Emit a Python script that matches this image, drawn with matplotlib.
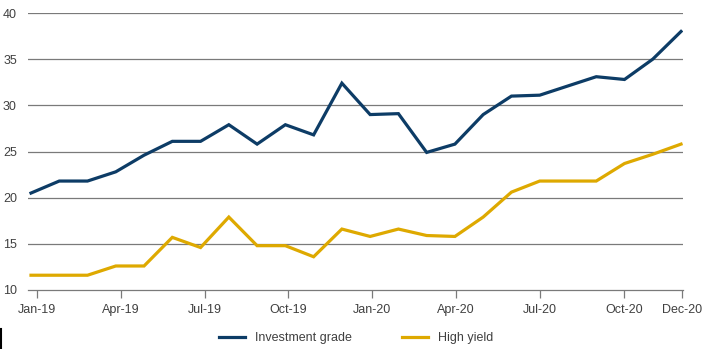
import matplotlib.pyplot as plt
from matplotlib.lines import Line2D

# Monthly spread levels, Jan-19 .. Dec-20
months = list(range(24))
investment_grade = [20.5, 21.8, 21.8, 22.8, 24.6, 26.1, 26.1, 27.9, 25.8, 27.9, 26.8, 32.4,
                    29.0, 29.1, 24.9, 25.8, 29.0, 31.0, 31.1, 32.1, 33.1, 32.8, 35.0, 38.0]
high_yield = [11.6, 11.6, 11.6, 12.6, 12.6, 15.7, 14.6, 17.9, 14.8, 14.8, 13.6, 16.6,
              15.8, 16.6, 15.9, 15.8, 17.9, 20.6, 21.8, 21.8, 21.8, 23.7, 24.7, 25.8]

tick_pos = [0.21, 3.18, 6.16, 9.09, 12.07, 15.04, 18.01, 20.98, 23.04]
tick_labels = ["Jan-19", "Apr-19", "Jul-19", "Oct-19", "Jan-20", "Apr-20", "Jul-20", "Oct-20", "Dec-20"]
y_ticks = [10, 15, 20, 25, 30, 35, 40]

NAVY = "#0d3c66"
GOLD = "#dea900"
GRID = "#7a7a7a"
TEXT = "#404040"

plt.rcParams["font.family"] = ["Liberation Sans", "DejaVu Sans"]

fig = plt.figure(figsize=(7.11, 3.49), dpi=100)
ax = fig.add_axes([28 / 711, 1 - 290 / 349, (683 - 28) / 711, (290 - 13) / 349])

ax.plot(months, investment_grade, color=NAVY, lw=2.3, label="Investment grade",
        solid_joinstyle="miter", zorder=3)
ax.plot(months, high_yield, color=GOLD, lw=2.3, label="High yield",
        solid_joinstyle="miter", zorder=3)

ax.set_xlim(-0.106, 23.07)
ax.set_ylim(10, 40)
ax.set_yticks(y_ticks)
ax.set_xticks(tick_pos)
ax.set_xticklabels(tick_labels)

for y in y_ticks[1:]:
    ax.axhline(y, color=GRID, lw=0.9, zorder=1)

for side in ["top", "right", "left"]:
    ax.spines[side].set_visible(False)
ax.spines["bottom"].set_color(GRID)
ax.spines["bottom"].set_linewidth(0.9)

ax.tick_params(axis="x", colors=GRID, length=6, width=0.9, direction="out",
               labelcolor=TEXT, labelsize=9, pad=4)
ax.tick_params(axis="y", length=0, labelcolor=TEXT, labelsize=9, pad=8)

fig.legend(loc="center left", bbox_to_anchor=(219 / 711, 11 / 349), ncol=2, frameon=False,
           fontsize=9, labelcolor=TEXT, handlelength=2.1, handletextpad=0.8,
           columnspacing=4.0, borderpad=0, borderaxespad=0)

# thin marker at the bottom-left edge
fig.add_artist(Line2D([1 / 711, 1 / 711], [0, 20 / 349], color="black", lw=1.5,
                      transform=fig.transFigure))

fig.savefig("out.png", dpi=100)
